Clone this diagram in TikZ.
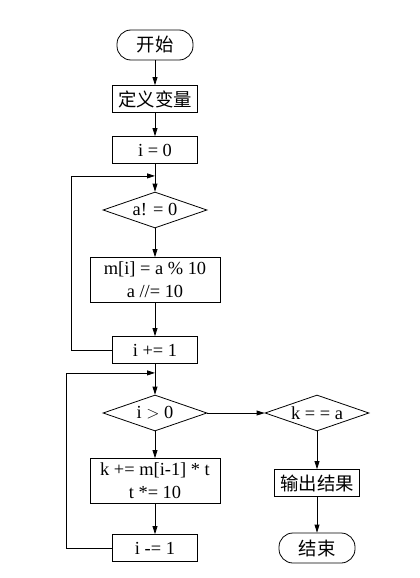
\documentclass[tikz,border=0pt]{standalone}
\usepackage{fontspec}
\setmainfont{Liberation Serif}
\newfontfamily\cjk{Noto Sans CJK SC}
\usepackage{tikz}
\usetikzlibrary{
	arrows.meta,
	shapes.geometric
}

\begin{document}
\begin{tikzpicture}[x=1pt,y=1pt,
		font=\fontsize{18.4}{23}\selectfont,
		line width=0.8pt,
		arrow/.style={-{Triangle[length=8pt,width=5pt,fill=black]}},
		box/.style={draw=black,minimum width=85pt,minimum height=27pt,inner sep=2pt,align=center},
		wide/.style={box,minimum width=130pt,minimum height=45pt},
		term/.style={draw=black,rounded corners=14pt,minimum width=76pt,minimum height=30pt},
		test/.style={draw=black,diamond,aspect=2.9,inner sep=1pt,minimum width=104pt,minimum height=36pt}]
		\useasboundingbox (0,0) rectangle (420,-578);
		\node[term] (start) at (155,-45) {\cjk 开始};
		\node[box,below of=start,node distance=54pt] (define) {\cjk 定义变量};
		\node[box,below of=define,node distance=51pt] (init) {i = 0};
		\node[test,below of=init,node distance=60pt] (notzero) {a! = 0};
		\node[wide,below of=notzero,node distance=70pt] (digit) {m[i] = a \% 10\\a //= 10};
		\node[box,below of=digit,node distance=70pt] (inc) {i += 1};
		\node[test,below of=inc,node distance=63pt] (positive) {i \(>\) 0};
		\node[wide,below of=positive,node distance=68pt] (accum) {k += m[i-1] * t\\t *= 10};
		\node[box,below of=accum,node distance=67pt] (dec) {i -= 1};
		\node[test,right of=positive,node distance=162pt] (equal) {k = = a};
		\node[box,below of=equal,node distance=70pt] (output) {\cjk 输出结果};
		\node[term,below of=output,node distance=65pt] (stop) {\cjk 结束};

		\coordinate (join1) at ([yshift=-12pt]init.south);
		\coordinate (join2) at ([yshift=-9pt]inc.south);

		\draw[arrow] (start) -- (define);
		\draw[arrow] (define) -- (init);
		\draw[arrow] (init) -- (notzero);
		\draw[arrow] (notzero) -- (digit);
		\draw[arrow] (digit) -- (inc);
		\draw[arrow] (inc.west) -- ++(-41,0) |- (join1);
		\draw[arrow] (inc) -- (positive);
		\draw[arrow] (positive) -- (accum);
		\draw[arrow] (accum) -- (dec);
		\draw[arrow] (dec.west) -- ++(-46,0) |- (join2);
		\draw[arrow] (positive) -- (equal);
		\draw[arrow] (equal) -- (output);
		\draw[arrow] (output) -- (stop);
	\end{tikzpicture}
\end{document}
